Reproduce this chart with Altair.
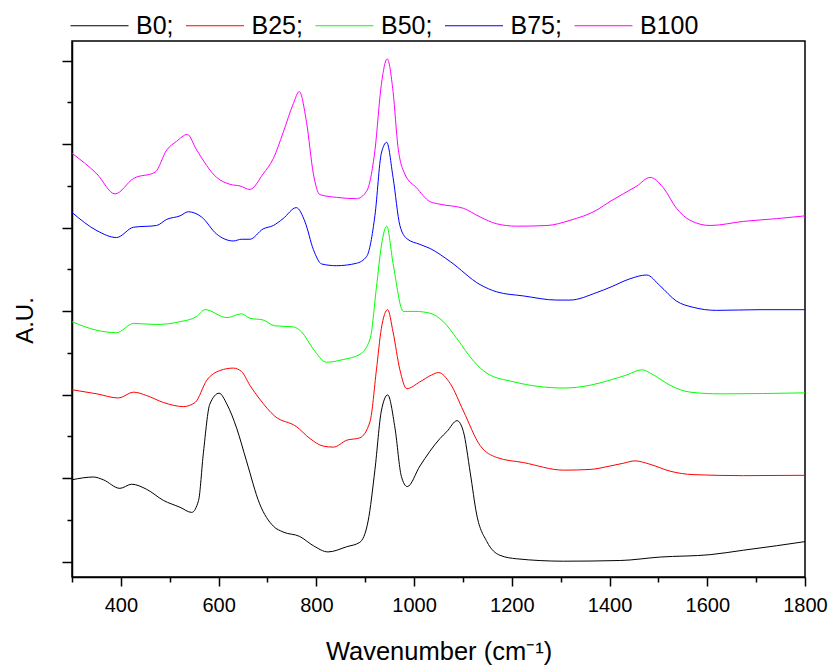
import altair as alt
import pandas as pd

series = ["B0;", "B25;", "B50;", "B75;", "B100"]
colors = ["#000000", "#ff0000", "#00ff00", "#0000ff", "#ff00ff"]

b0_x = [300, 344, 364, 398, 422, 453, 487, 521, 545, 559, 569, 582, 601, 617, 637, 657, 684, 712, 732, 766,
        794, 824, 862, 889, 906, 920, 933, 946, 961, 974, 986, 1012, 1053, 1067, 1088, 1101, 1115, 1128, 1149, 1176,
        1210, 1306, 1422, 1503, 1606, 1674, 1742, 1800]
b0_y = [238, 246, 238, 213, 225, 210, 178, 158, 143, 178, 318, 458, 490, 458, 388, 293, 168, 103, 86, 73,
        46, 28, 43, 56, 118, 268, 438, 485, 388, 248, 218, 278, 358, 378, 410, 378, 258, 138, 58, 18,
        8, 1, 3, 13, 20, 33, 46, 58]

b25_x = [300, 351, 395, 426, 453, 487, 528, 552, 576, 603, 630, 647, 664, 684, 715, 759, 787, 814, 835, 862,
         889, 910, 923, 933, 946, 957, 971, 985, 1012, 1036, 1050, 1074, 1101, 1135, 1169, 1224, 1306, 1360, 1401, 1428,
         1452, 1483, 1524, 1571, 1674, 1800]
b25_y = [500, 488, 476, 493, 483, 463, 451, 463, 528, 556, 563, 553, 513, 473, 423, 393, 358, 336, 333, 353,
         360, 408, 558, 678, 733, 668, 558, 503, 523, 543, 550, 518, 438, 338, 303, 288, 266, 268, 278, 286,
         293, 283, 263, 253, 250, 251]

b50_x = [300, 351, 391, 426, 473, 521, 555, 572, 617, 647, 664, 691, 715, 753, 770, 794, 821, 855, 889, 910,
         923, 933, 944, 957, 978, 1002, 1032, 1060, 1088, 1122, 1149, 1204, 1306, 1360, 1401, 1435, 1466, 1490, 1524, 1565,
         1626, 1800]
b50_y = [698, 673, 666, 693, 690, 698, 713, 733, 710, 721, 708, 703, 686, 683, 668, 618, 580, 588, 603, 648,
         798, 918, 976, 868, 728, 728, 723, 698, 648, 583, 548, 523, 505, 513, 528, 543, 558, 543, 513, 493,
         488, 491]

b75_x = [300, 351, 391, 426, 473, 494, 521, 538, 565, 596, 630, 647, 664, 691, 712, 732, 759, 777, 794, 811,
         841, 882, 903, 920, 933, 944, 957, 971, 985, 1012, 1033, 1074, 1135, 1169, 1224, 1292, 1319, 1374, 1401, 1442,
         1476, 1503, 1537, 1571, 1619, 1708, 1800]
b75_y = [1016, 963, 943, 973, 978, 996, 1006, 1018, 1003, 953, 933, 938, 938, 968, 978, 998, 1030, 988, 908, 866,
         861, 868, 888, 1008, 1188, 1220, 1118, 978, 940, 923, 911, 873, 806, 785, 773, 761, 761, 783, 798, 823,
         834, 803, 758, 740, 731, 733, 733]

b100_x = [300, 351, 388, 426, 470, 494, 514, 536, 555, 596, 623, 644, 664, 691, 712, 732, 753, 765, 780, 794,
          807, 841, 882, 903, 920, 933, 945, 957, 967, 981, 1005, 1032, 1053, 1101, 1135, 1169, 1210, 1272, 1319, 1374,
          1401, 1456, 1483, 1510, 1537, 1565, 1606, 1674, 1742, 1800]
b100_y = [1188, 1128, 1070, 1115, 1133, 1198, 1223, 1243, 1198, 1118, 1098, 1093, 1083, 1128, 1173, 1248, 1333, 1368, 1278, 1128,
          1068, 1060, 1056, 1078, 1198, 1388, 1463, 1368, 1208, 1128, 1088, 1048, 1040, 1028, 1003, 983, 976, 978, 993, 1023,
          1048, 1093, 1118, 1088, 1028, 993, 978, 990, 998, 1006]

x_ticks = list(range(300, 1801, 100))
y_ticks = [k * 121.5 for k in range(13)]

rows = []
for name, xs, ys in zip(series, [b0_x, b25_x, b50_x, b75_x, b100_x], [b0_y, b25_y, b50_y, b75_y, b100_y]):
    for i, (xv, yv) in enumerate(zip(xs, ys)):
        rows.append({"series": name, "wn": xv, "au": yv, "idx": i})
df = pd.DataFrame(rows)

FONT = "Liberation Sans"

chart = alt.Chart(df).mark_line(strokeWidth=1, interpolate="monotone").encode(
    x=alt.X(
        "wn:Q",
        scale=alt.Scale(domain=[300, 1800], nice=False, zero=False),
        axis=alt.Axis(
            values=x_ticks,
            format="d",
            labelExpr="datum.value % 200 == 0 ? datum.label : ''",
            tickSize={"condition": {"test": "datum.value % 200 == 0", "value": 9}, "value": 5},
            labelFontSize=20, labelFont=FONT, labelColor="black", labelPadding=9,
            title="Wavenumber (cm⁻¹)", titleFontSize=25.5, titleFont=FONT,
            titleFontWeight="normal", titleColor="black",
            titleY=74, titleBaseline="middle",
            domainColor="black", domainWidth=1.5, tickColor="black", tickWidth=1.5,
            grid=False, labelFlush=False, labelOverlap=False,
        ),
    ),
    y=alt.Y(
        "au:Q",
        scale=alt.Scale(domain=[-45, 1515], nice=False, zero=False),
        axis=alt.Axis(
            values=y_ticks,
            labels=False,
            tickSize={"condition": {"test": "datum.value % 243 == 0", "value": 10}, "value": 5},
            title="A.U.", titleFontSize=24, titleFont=FONT, titleFontWeight="normal",
            titleColor="black", titleX=-47, titleY=279, titleBaseline="middle", titleAlign="center",
            domainColor="black", domainWidth=1.5, tickColor="black", tickWidth=1.5,
            grid=False,
        ),
    ),
    color=alt.Color(
        "series:N",
        scale=alt.Scale(domain=series, range=colors),
        legend=alt.Legend(
            title=None, orient="none", legendX=-2, legendY=-45, direction="horizontal",
            symbolType="stroke", symbolSize=3364, symbolStrokeWidth=1,
            labelFontSize=25, labelFont=FONT, labelColor="black",
            labelOffset=7, columnPadding=9.5, labelLimit=200,
        ),
    ),
    detail="series:N",
    order="idx:Q",
).properties(
    width=733, height=536,
    autosize=alt.AutoSizeParams(type="none"),
    padding={"left": 72, "top": 41, "right": 25, "bottom": 88},
).configure(
    font=FONT, background="white"
).configure_view(
    stroke="black", strokeWidth=1.5
)

chart.save("out.html", embed_options={"renderer": "svg", "actions": False})
